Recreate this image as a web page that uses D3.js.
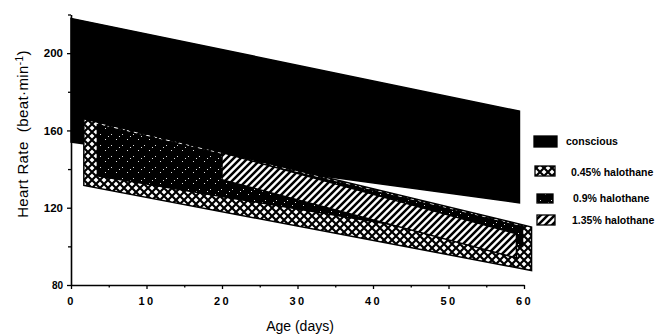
<!DOCTYPE html>
<html>
<head>
<meta charset="utf-8">
<script src="https://cdn.jsdelivr.net/npm/d3@7"></script>
<style>
  html, body { margin: 0; padding: 0; background: #fff; }
  svg { display: block; font-family: "Liberation Sans", Arial, Helvetica, sans-serif; }
  .tick text { font-weight: bold; fill: #000; }
</style>
</head>
<body>
<svg id="chart" width="660" height="335"></svg>
<script>
// Heart-rate bands (regression envelopes).
// Each band is a straight strip: start/end day, upper and lower edge values.
const bandNames  = [ 'conscious', '0.45% halothane', '0.9% halothane', '1.35% halothane' ];
const bandDays   = [ [ 0, 59.4 ], [ 1.7, 61 ], [ 3.5, 59.8 ], [ 20, 59 ] ];
const bandUpper  = [ [ 218, 170 ], [ 166, 110 ], [ 163, 110 ], [ 148.5, 106.5 ] ];
const bandLower  = [ [ 154, 122.5 ], [ 131.5, 87.5 ], [ 136.5, 100 ], [ 134.5, 94 ] ];
const bandFills  = [ 'solid', 'xhatch', 'stipple', 'hatch' ];

// Axis ticks.
const xTicks      = [ 0, 10, 20, 30, 40, 50, 60 ];
const xMinorTicks = [ 5, 15, 25, 35, 45, 55 ];
const yTicks      = [ 80, 120, 160, 200 ];
const yMinorTicks = [ 100, 140, 180, 220 ];

const svg = d3.select( '#chart' );

const x = d3.scaleLinear( ).domain( [ 0, 60 ] ).range( [ 71, 524 ] );
const y = d3.scaleLinear( ).domain( [ 80, 220 ] ).range( [ 285, 14.5 ] );

// Fill patterns.
const defs = svg.append( 'defs' );

const xh = defs.append( 'pattern' )
  .attr( 'id', 'xhatch' ).attr( 'patternUnits', 'userSpaceOnUse' )
  .attr( 'width', 8 ).attr( 'height', 8 );
xh.append( 'rect' ).attr( 'width', 8 ).attr( 'height', 8 ).attr( 'fill', '#fff' );
xh.append( 'path' ).attr( 'd', 'M0,0L8,8M8,0L0,8' )
  .attr( 'stroke', '#000' ).attr( 'stroke-width', 2.2 ).attr( 'stroke-linecap', 'square' );

const ht = defs.append( 'pattern' )
  .attr( 'id', 'hatch' ).attr( 'patternUnits', 'userSpaceOnUse' )
  .attr( 'width', 7 ).attr( 'height', 7 );
ht.append( 'rect' ).attr( 'width', 7 ).attr( 'height', 7 ).attr( 'fill', '#fff' );
ht.append( 'path' ).attr( 'd', 'M0,7L7,0M-1,1L1,-1M6,8L8,6' )
  .attr( 'stroke', '#000' ).attr( 'stroke-width', 2.5 );

const st = defs.append( 'pattern' )
  .attr( 'id', 'stipple' ).attr( 'patternUnits', 'userSpaceOnUse' )
  .attr( 'width', 11 ).attr( 'height', 11 );
st.append( 'rect' ).attr( 'width', 11 ).attr( 'height', 11 ).attr( 'fill', '#000' );
[ [ 1, 2 ], [ 6, 7 ], [ 9, 4 ] ].forEach( p =>
  st.append( 'rect' ).attr( 'x', p[0] ).attr( 'y', p[1] )
    .attr( 'width', 1 ).attr( 'height', 1 ).attr( 'fill', '#ddd' ) );

const fillOf = f => f === 'solid' ? '#000' : `url(#${f})`;

// Bands, drawn bottom layer first.
const bands = bandNames.map( ( name, i ) => ( {
  name,
  fill : bandFills[i],
  pts  : [
    [ bandDays[i][0], bandUpper[i][0] ],
    [ bandDays[i][1], bandUpper[i][1] ],
    [ bandDays[i][1], bandLower[i][1] ],
    [ bandDays[i][0], bandLower[i][0] ]
  ]
} ) );

svg.append( 'g' ).selectAll( 'path' )
  .data( bands )
  .enter( )
  .append( 'path' )
    .attr( 'd', d => d3.line( ).x( p => x( p[0] ) ).y( p => y( p[1] ) )( d.pts ) + 'Z' )
    .attr( 'fill', d => fillOf( d.fill ) )
    .attr( 'stroke', '#000' )
    .attr( 'stroke-width', 1.5 )
    .attr( 'stroke-linejoin', 'miter' );

// Y axis.
const yAxis = svg.append( 'g' ).attr( 'transform', `translate(${x( 0 )},0)` );
yAxis.call( d3.axisLeft( y ).tickValues( yTicks ).tickSize( 4 ).tickSizeOuter( 0 ).tickPadding( 4 ) )
  .call( g => g.select( '.domain' ).attr( 'stroke-width', 1.6 ) )
  .selectAll( 'text' ).attr( 'font-size', d => d === 80 ? 10 : 11.5 );
yAxis.append( 'g' )
  .call( d3.axisLeft( y ).tickValues( yMinorTicks ).tickSize( 3 ).tickFormat( '' ) )
  .call( g => g.select( '.domain' ).remove( ) );
yAxis.selectAll( 'line' ).attr( 'stroke-width', 1.3 );

// X axis.
const xAxis = svg.append( 'g' ).attr( 'transform', `translate(0,${y( 80 )})` );
xAxis.call( d3.axisBottom( x ).tickValues( xTicks ).tickSize( 4 ).tickSizeOuter( 0 ).tickPadding( 8 ) )
  .call( g => g.select( '.domain' ).attr( 'stroke-width', 1.6 ) )
  .selectAll( 'text' ).attr( 'font-size', 11 ).attr( 'letter-spacing', '2.5px' );
xAxis.append( 'g' )
  .call( d3.axisBottom( x ).tickValues( xMinorTicks ).tickSize( 2.5 ).tickFormat( '' ) )
  .call( g => g.select( '.domain' ).remove( ) );
xAxis.selectAll( 'line' ).attr( 'stroke-width', 1.3 );

// Axis titles.
svg.append( 'text' )
  .attr( 'x', 300 ).attr( 'y', 331 )
  .attr( 'text-anchor', 'middle' ).attr( 'font-size', 14 )
  .text( 'Age (days)' );

const yTitle = svg.append( 'text' )
  .attr( 'transform', 'translate(28,134) rotate(-90)' )
  .attr( 'text-anchor', 'middle' ).attr( 'font-size', 15 )
  .attr( 'letter-spacing', '0.4px' );
yTitle.append( 'tspan' ).text( 'Heart Rate \u00a0(beat\u00b7min' );
yTitle.append( 'tspan' ).attr( 'dy', -5 ).attr( 'font-size', 10 ).text( '-1' );
yTitle.append( 'tspan' ).attr( 'dy', 5 ).text( ')' );

// Legend.
const legendRows = [
  { sx: 534, sy: 136, sw: 23, sh: 11, tx: 566, ty: 141 },
  { sx: 535, sy: 166, sw: 20, sh: 10, tx: 571, ty: 172 },
  { sx: 537, sy: 194, sw: 16, sh: 9,  tx: 573, ty: 198 },
  { sx: 537, sy: 215, sw: 18, sh: 10, tx: 572, ty: 220 }
];
const legend = svg.append( 'g' ).selectAll( 'g' )
  .data( bands )
  .enter( )
  .append( 'g' );
legend.append( 'rect' )
  .attr( 'x', ( d, i ) => legendRows[i].sx ).attr( 'y', ( d, i ) => legendRows[i].sy )
  .attr( 'width', ( d, i ) => legendRows[i].sw ).attr( 'height', ( d, i ) => legendRows[i].sh )
  .attr( 'fill', d => fillOf( d.fill ) )
  .attr( 'stroke', '#000' ).attr( 'stroke-width', 1.3 );
legend.append( 'text' )
  .attr( 'x', ( d, i ) => legendRows[i].tx ).attr( 'y', ( d, i ) => legendRows[i].ty )
  .attr( 'dy', '0.35em' ).attr( 'font-size', 10.5 ).attr( 'font-weight', 'bold' )
  .text( d => d.name );
</script>
</body>
</html>
